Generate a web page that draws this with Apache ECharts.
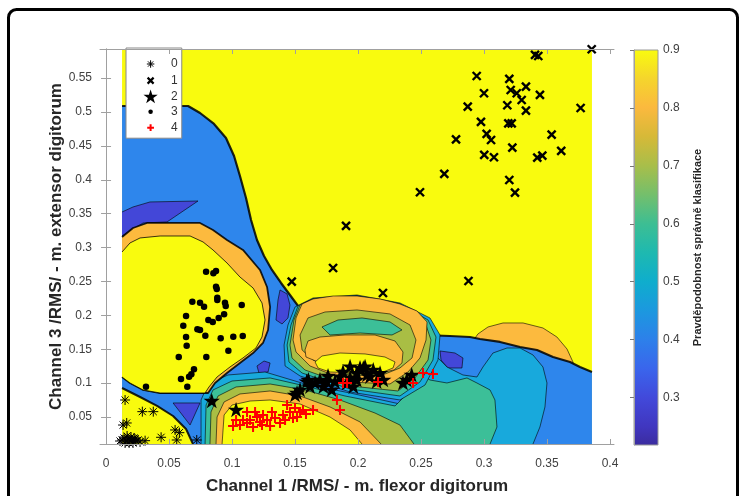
<!DOCTYPE html>
<html><head><meta charset="utf-8">
<script src="https://cdn.jsdelivr.net/npm/echarts@6.0.0/dist/echarts.min.js"></script>
<style>html,body{margin:0;padding:0;background:#fff}#c{width:741px;height:496px}</style>
</head><body><div id="c"></div>
<script>
// ---------- axis ticks ----------
const xTicks = [0, 0.05, 0.1, 0.15, 0.2, 0.25, 0.3, 0.35, 0.4];
const yTicks = [0.05, 0.1, 0.15, 0.2, 0.25, 0.3, 0.35, 0.4, 0.45, 0.5, 0.55];
const cbTicks = [0.3, 0.4, 0.5, 0.6, 0.7, 0.8, 0.9];
const classNames = ['0', '1', '2', '3', '4'];

// ---------- scatter data (x = Channel 1 RMS, y = Channel 3 RMS) ----------
const class0 = [[0.0151,0.0752],[0.0288,0.0580],[0.0375,0.0580],[0.0164,0.0413],[0.0135,0.0383],[0.0548,0.0310],[0.0582,0.0270],[0.0437,0.0202],[0.0310,0.0152],[0.0561,0.0162],[0.0720,0.0162],[0.0127,0.0162],[0.0143,0.0192],[0.0159,0.0147],[0.0175,0.0177],[0.0190,0.0147],[0.0206,0.0162],[0.0222,0.0192],[0.0238,0.0147],[0.0254,0.0162],[0.0167,0.0221],[0.0198,0.0206],[0.0230,0.0177],[0.0151,0.0118],[0.0214,0.0118],[0.0270,0.0133],[0.0183,0.0118],[0.0111,0.0147]];
const class1 = [[0.3405,0.5841],[0.3431,0.5826],[0.3855,0.5925],[0.2942,0.5531],[0.3201,0.5487],[0.3333,0.5373],[0.3212,0.5324],[0.3260,0.5276],[0.3000,0.5276],[0.3444,0.5251],[0.3299,0.5177],[0.2871,0.5078],[0.3185,0.5099],[0.3333,0.5019],[0.3767,0.5059],[0.2976,0.4853],[0.3193,0.4833],[0.3220,0.4833],[0.3021,0.4676],[0.3056,0.4587],[0.2778,0.4597],[0.3537,0.4665],[0.3225,0.4473],[0.3002,0.4366],[0.3079,0.4332],[0.3423,0.4326],[0.3463,0.4355],[0.3613,0.4425],[0.2685,0.4086],[0.3201,0.3997],[0.3246,0.3810],[0.2492,0.3816],[0.1905,0.3319],[0.1802,0.2699],[0.1474,0.2497],[0.2198,0.2330],[0.2877,0.2507]];
const class2 = [[0.0839,0.0737],[0.1032,0.0605],[0.1500,0.0826],[0.1516,0.0855],[0.1540,0.0900],[0.1593,0.1022],[0.1606,0.1047],[0.1619,0.0948],[0.1659,0.1003],[0.1698,0.1047],[0.1725,0.0948],[0.1752,0.1022],[0.1762,0.1106],[0.1791,0.0900],[0.1817,0.1018],[0.1857,0.1096],[0.1881,0.1165],[0.1910,0.0999],[0.1937,0.1243],[0.1937,0.1077],[0.1963,0.0948],[0.1990,0.1146],[0.1990,0.1047],[0.2016,0.1224],[0.2042,0.1220],[0.2056,0.1243],[0.2071,0.1121],[0.2095,0.1096],[0.2121,0.1195],[0.2148,0.1022],[0.2175,0.1146],[0.2201,0.1047],[0.2387,0.1047],[0.2426,0.1121],[0.2357,0.1003]];
const class3 = [[0.0794,0.2645],[0.0852,0.2621],[0.0873,0.2655],[0.0873,0.2423],[0.0879,0.2389],[0.0883,0.2261],[0.0883,0.2227],[0.0685,0.2202],[0.0746,0.2187],[0.0778,0.2128],[0.0944,0.2187],[0.0950,0.2139],[0.1077,0.2153],[0.0635,0.1991],[0.0937,0.2016],[0.0894,0.1962],[0.0812,0.1932],[0.0847,0.1903],[0.0613,0.1848],[0.0725,0.1795],[0.0746,0.1785],[0.0788,0.1701],[0.0635,0.1681],[0.0910,0.1662],[0.1010,0.1686],[0.1085,0.1696],[0.0640,0.1553],[0.0971,0.1479],[0.0577,0.1386],[0.0796,0.1386],[0.0698,0.1205],[0.0677,0.1131],[0.0659,0.1096],[0.0595,0.1062],[0.0645,0.0948],[0.0317,0.0948]];
const class4 = [[0.1008,0.0369],[0.1063,0.0383],[0.1032,0.0457],[0.1087,0.0457],[0.1119,0.0413],[0.1119,0.0575],[0.1143,0.0457],[0.1167,0.0354],[0.1198,0.0501],[0.1222,0.0428],[0.1238,0.0383],[0.1278,0.0457],[0.1302,0.0369],[0.1317,0.0575],[0.1341,0.0487],[0.1381,0.0413],[0.1405,0.0531],[0.1437,0.0678],[0.1460,0.0575],[0.1484,0.0487],[0.1500,0.0634],[0.1516,0.0501],[0.1540,0.0575],[0.1563,0.0605],[0.1587,0.0546],[0.1643,0.0605],[0.1833,0.0752],[0.1857,0.0605],[0.1881,0.1003],[0.1913,0.1003],[0.2159,0.1018],[0.2437,0.1003],[0.2516,0.1150],[0.2595,0.1136],[0.1246,0.0531],[0.1183,0.0575],[0.1421,0.0457]];

// ---------- filled-contour regions (probability level, outline in data units) ----------
const gridXMin = 0.0127, gridXMax = 0.3857, gridYMin = 0.0103, gridYMax = 0.5929;
const baseYellow = [[0.0127,0.0103],[0.3857,0.0103],[0.3857,0.5929],[0.0127,0.5929]];
const rightArc = [[0.2889,0.1563],[0.2952,0.1726],[0.3032,0.1829],[0.3151,0.1888],[0.3310,0.1888],[0.3468,0.1814],[0.3579,0.1681],[0.3659,0.1504],[0.3706,0.1313],[0.3722,0.1121],[0.3603,0.1047],[0.2889,0.1195]];
const blueZone = [[0.0127,0.5088],[0.0651,0.5088],[0.0746,0.4985],[0.0857,0.4823],[0.0952,0.4617],[0.1016,0.4351],[0.1063,0.4056],[0.1111,0.3732],[0.1151,0.3407],[0.1198,0.3112],[0.1254,0.2876],[0.1317,0.2670],[0.1389,0.2478],[0.1460,0.2301],[0.1524,0.2139],[0.1619,0.2050],[0.1937,0.2021],[0.2333,0.1962],[0.2516,0.1711],[0.2730,0.1696],[0.2889,0.1681],[0.2968,0.1652],[0.3127,0.1608],[0.3286,0.1534],[0.3421,0.1490],[0.3548,0.1386],[0.3683,0.1313],[0.3762,0.1239],[0.3857,0.1165],[0.3857,0.0103],[0.0127,0.0103]];
const spotTopLeft = [[0.0127,0.3525],[0.0214,0.3599],[0.0349,0.3673],[0.0730,0.3687],[0.0484,0.3378],[0.0294,0.3363],[0.0214,0.3274],[0.0127,0.3171]];
const spotStrip = [[0.1381,0.2375],[0.1437,0.2316],[0.1460,0.2153],[0.1444,0.1962],[0.1397,0.1873],[0.1349,0.1932],[0.1365,0.2227]];
const spotLowLeft = [[0.0532,0.0708],[0.0746,0.0708],[0.0667,0.0383]];
const spotRight = [[0.2651,0.1475],[0.2770,0.1445],[0.2833,0.1372],[0.2825,0.1224],[0.2714,0.1224],[0.2659,0.1342]];
const spotChannel = [[0.1198,0.1254],[0.1254,0.1327],[0.1302,0.1298],[0.1286,0.1165],[0.1214,0.1150]];
const c4Cyan = [[0.0754,0.0103],[0.0754,0.0752],[0.0810,0.0988],[0.0968,0.1121],[0.1262,0.1165],[0.1579,0.0988],[0.1937,0.0855],[0.2333,0.0693],[0.2452,0.0826],[0.2452,0.1563],[0.2516,0.1696],[0.2571,0.1490],[0.2706,0.1239],[0.2833,0.1121],[0.2944,0.1091],[0.2992,0.1239],[0.3071,0.1445],[0.3183,0.1519],[0.3286,0.1519],[0.3389,0.1416],[0.3468,0.1239],[0.3500,0.1003],[0.3484,0.0649],[0.3444,0.0354],[0.3389,0.0103]];
const c4Teal = [[0.0786,0.0103],[0.0794,0.0678],[0.0849,0.0900],[0.1000,0.1032],[0.1302,0.1077],[0.1579,0.0959],[0.1897,0.0811],[0.2294,0.0664],[0.2373,0.0811],[0.2413,0.1239],[0.2571,0.1047],[0.2706,0.1003],[0.2865,0.1077],[0.2944,0.1003],[0.3048,0.0900],[0.3087,0.0752],[0.3103,0.0354],[0.3048,0.0103]];
const c4Olive = [[0.0825,0.0103],[0.0833,0.0575],[0.0889,0.0811],[0.1032,0.0944],[0.1302,0.0988],[0.1579,0.0900],[0.1857,0.0752],[0.2135,0.0560],[0.2333,0.0383],[0.2444,0.0103]];
const c4Orange = [[0.0873,0.0103],[0.0881,0.0501],[0.0937,0.0723],[0.1063,0.0841],[0.1302,0.0885],[0.1540,0.0811],[0.1778,0.0649],[0.2016,0.0428],[0.2183,0.0103]];
const c4Yellow = [[0.0921,0.0103],[0.0937,0.0531],[0.1000,0.0678],[0.1143,0.0737],[0.1302,0.0752],[0.1540,0.0693],[0.1778,0.0501],[0.1937,0.0310],[0.2032,0.0103]];
const c2Cyan = [[0.1413,0.1563],[0.1444,0.1858],[0.1500,0.2124],[0.1643,0.2257],[0.1992,0.2301],[0.2333,0.2183],[0.2571,0.1962],[0.2651,0.1711],[0.2635,0.1342],[0.2532,0.0973],[0.2333,0.0752],[0.1937,0.0870],[0.1540,0.1106],[0.1421,0.1254]];
const c2Teal = [[0.1437,0.1563],[0.1468,0.1858],[0.1524,0.2139],[0.1643,0.2242],[0.1992,0.2286],[0.2333,0.2168],[0.2556,0.1932],[0.2619,0.1681],[0.2595,0.1342],[0.2492,0.1018],[0.2333,0.0811],[0.1937,0.0914],[0.1556,0.1150],[0.1452,0.1313]];
const c2Olive = [[0.1460,0.1563],[0.1492,0.1932],[0.1540,0.2153],[0.1643,0.2242],[0.1992,0.2286],[0.2333,0.2168],[0.2532,0.1903],[0.2579,0.1637],[0.2556,0.1342],[0.2452,0.1077],[0.2317,0.0885],[0.1937,0.0959],[0.1579,0.1195],[0.1476,0.1372]];
const c2Orange = [[0.1484,0.1637],[0.1508,0.1962],[0.1556,0.2168],[0.1643,0.2242],[0.1802,0.2286],[0.1992,0.2286],[0.2175,0.2242],[0.2333,0.2168],[0.2468,0.2065],[0.2548,0.1903],[0.2540,0.1637],[0.2492,0.1372],[0.2397,0.1165],[0.2254,0.0988],[0.1937,0.1018],[0.1619,0.1254],[0.1508,0.1460]];
const c2OliveIn = [[0.1540,0.1711],[0.1603,0.1962],[0.1738,0.2050],[0.1992,0.2080],[0.2254,0.2021],[0.2413,0.1858],[0.2460,0.1637],[0.2429,0.1372],[0.2333,0.1224],[0.2175,0.1106],[0.1897,0.1121],[0.1643,0.1342],[0.1556,0.1490]];
const c2TealIn = [[0.1714,0.1829],[0.1841,0.1932],[0.2032,0.1962],[0.2254,0.1903],[0.2349,0.1785],[0.2270,0.1711],[0.2016,0.1740],[0.1778,0.1711]];
const c2OrangeIn = [[0.1579,0.1490],[0.1603,0.1622],[0.1698,0.1681],[0.1897,0.1711],[0.2135,0.1711],[0.2294,0.1622],[0.2357,0.1460],[0.2349,0.1298],[0.2286,0.1195],[0.2135,0.1136],[0.1897,0.1150],[0.1683,0.1313],[0.1587,0.1386]];
const c2Yellow = [[0.1659,0.1313],[0.1714,0.1401],[0.1857,0.1445],[0.2056,0.1431],[0.2214,0.1386],[0.2294,0.1313],[0.2278,0.1224],[0.2198,0.1165],[0.2016,0.1150],[0.1778,0.1165],[0.1683,0.1224]];
const c3Orange = [[0.0127,0.3156],[0.0214,0.3289],[0.0325,0.3363],[0.0746,0.3363],[0.0849,0.3260],[0.0960,0.3112],[0.1087,0.2965],[0.1222,0.2670],[0.1278,0.2419],[0.1302,0.2124],[0.1286,0.1785],[0.1246,0.1593],[0.1167,0.1445],[0.1063,0.1298],[0.0960,0.1150],[0.0865,0.1003],[0.0810,0.0855],[0.0429,0.0855],[0.0294,0.0900],[0.0190,0.1003],[0.0127,0.1091]];
const c3Yellow = [[0.0127,0.2935],[0.0190,0.3068],[0.0270,0.3142],[0.0429,0.3171],[0.0667,0.3171],[0.0770,0.3083],[0.0849,0.2965],[0.0960,0.2773],[0.1063,0.2566],[0.1167,0.2404],[0.1238,0.2183],[0.1262,0.1932],[0.1238,0.1681],[0.1190,0.1519],[0.1087,0.1372],[0.0984,0.1239],[0.0881,0.1091],[0.0817,0.0944],[0.0786,0.0855],[0.0429,0.0855],[0.0294,0.0900],[0.0190,0.1003],[0.0127,0.1091]];
const c0Yellow = [[0.0127,0.0929],[0.0270,0.0796],[0.0405,0.0664],[0.0532,0.0516],[0.0635,0.0324],[0.0690,0.0103],[0.0127,0.0103]];

// painting order: [name, level, outline]
const contourLayers = [
  ['baseYellow',0.9,baseYellow],['rightArc',0.8,rightArc],['blueZone',0.4,blueZone],
  ['spotTopLeft',0.3,spotTopLeft],['spotStrip',0.3,spotStrip],['spotLowLeft',0.3,spotLowLeft],['spotRight',0.3,spotRight],['spotChannel',0.3,spotChannel],
  ['c4Cyan',0.5,c4Cyan],['c4Teal',0.6,c4Teal],
  ['c2Cyan',0.5,c2Cyan],['c2Teal',0.6,c2Teal],['c2Olive',0.7,c2Olive],['c2Orange',0.8,c2Orange],['c2OliveIn',0.7,c2OliveIn],['c2TealIn',0.6,c2TealIn],['c2OrangeIn',0.8,c2OrangeIn],['c2Yellow',0.9,c2Yellow],
  ['c4Olive',0.7,c4Olive],['c4Orange',0.8,c4Orange],['c4Yellow',0.9,c4Yellow],
  ['c3Orange',0.8,c3Orange],['c3Yellow',0.9,c3Yellow],['c0Yellow',0.9,c0Yellow]
];

// ---------- colours (styles) ----------
const levelColors = {0.3:'#4347D8',0.4:'#2E86EC',0.5:'#18A9DC',0.6:'#3CBF98',0.7:'#A9BE44',0.8:'#FCBA3E',0.9:'#F9FB0E'};
const cbRange = [0.218, 0.9];
const cbStops = [[0.218,'#3B2C9E'],[0.25,'#4036BF'],[0.3,'#4249DA'],[0.35,'#3A65EC'],[0.4,'#2D80EA'],[0.45,'#1C98DF'],[0.5,'#0FADCD'],[0.55,'#1EB9B0'],[0.6,'#3DBE93'],[0.65,'#74BF6C'],[0.7,'#A8BE4A'],[0.75,'#D6B938'],[0.8,'#FBB93E'],[0.85,'#F5D52C'],[0.9,'#F9FB0E']];
const edgeWidth = {baseYellow:0, blueZone:2.2, c3Orange:1.8, c3Yellow:0.9, c0Yellow:2};

const FONT = 'Liberation Sans, Arial, Helvetica, sans-serif';
const near = (a,b) => Math.abs(a-b) < 1e-6;
function onFrame(a,b){
  return (near(a[0],gridXMin)&&near(b[0],gridXMin)) || (near(a[0],gridXMax)&&near(b[0],gridXMax)) ||
         (near(a[1],gridYMin)&&near(b[1],gridYMin)) || (near(a[1],gridYMax)&&near(b[1],gridYMax));
}
function renderContour(params, api){
  const layer = contourLayers[params.dataIndex];
  const pts = layer[2];
  const px = pts.map(p => api.coord(p));
  const children = [{type:'polygon', shape:{points:px}, style:{fill:api.visual('color'), stroke:null}}];
  const w = (layer[0] in edgeWidth) ? edgeWidth[layer[0]] : 0.7;
  if (w > 0){
    const n = pts.length; let seg = [];
    const flush = () => { if (seg.length>1) children.push({type:'polyline', shape:{points:seg}, style:{stroke:'rgba(0,0,0,0.85)', lineWidth:w, fill:null, lineJoin:'round'}}); seg=[]; };
    for (let i=0;i<n;i++){
      const j=(i+1)%n;
      if (onFrame(pts[i],pts[j])) { flush(); continue; }
      if (seg.length===0) seg.push(px[i]);
      seg.push(px[j]);
    }
    flush();
  }
  return {type:'group', children};
}
function renderColorbar(params, api){
  const p1 = api.coord([0, cbRange[1]]), p2 = api.coord([1, cbRange[0]]);
  const stops = cbStops.map(s => ({offset:(s[0]-cbRange[0])/(cbRange[1]-cbRange[0]), color:s[1]}));
  return {type:'rect', shape:{x:p1[0], y:p1[1], width:p2[0]-p1[0], height:p2[1]-p1[1]},
    style:{fill:new echarts.graphic.LinearGradient(0,1,0,0,stops), stroke:'#9a9a9a', lineWidth:1}};
}

const symAsterisk = 'path://M5,0L5,10M0,5L10,5M1.46,1.46L8.54,8.54M8.54,1.46L1.46,8.54';
const symX = 'path://M0,0L10,10M10,0L0,10';
const symStar = 'path://M0,0M100,100M50,2.5L61.2,36.9L97.6,36.9L68.2,58.3L79.4,92.9L50,71.5L20.6,92.9L31.8,58.3L2.4,36.9L38.8,36.9Z';
const symPlus = 'path://M5,0L5,10M0,5L10,5';
const legAsterisk = 'path://M0,0M20,20M10,5L10,15M5,10L15,10M6.5,6.5L13.5,13.5M13.5,6.5L6.5,13.5';
const legX = 'path://M0,0M20,20M6,6L14,14M14,6L6,14';
const legStar = 'path://M0,0M20,20M10,0.5L12.24,7.4L19.51,7.4L13.63,11.68L15.88,18.59L10,14.32L4.12,18.59L6.37,11.68L0.49,7.4L7.76,7.4Z';
const legDot = 'path://M0,0M20,20M13,10A3,3,0,1,1,7,10A3,3,0,1,1,13,10Z';
const legPlus = 'path://M0,0M20,20M10,5.5L10,14.5M5.5,10L14.5,10';

const axisGray = '#a0a0a0';
const chart = echarts.init(document.getElementById('c'), null, {renderer:'canvas'});
chart.setOption({
  animation:false,
  backgroundColor:'#fff',
  textStyle:{fontFamily:FONT},
  grid:[{left:100, top:49, width:514, height:395, outerBoundsMode:'none', containLabel:false},
        {left:634, top:50, width:24, height:395, outerBoundsMode:'none', containLabel:false}],
  xAxis:[
    {gridIndex:0, type:'value', position:'bottom', min:-0.0048, max:0.4032, z:10,
     axisLine:{lineStyle:{color:axisGray,width:1}}, splitLine:{show:false},
     axisTick:{inside:true, length:5, customValues:xTicks, lineStyle:{color:axisGray}},
     axisLabel:{customValues:xTicks, color:'#404040', fontSize:12, margin:14, fontFamily:FONT},
     name:'Channel 1 /RMS/ - m. flexor digitorum', nameLocation:'middle', nameGap:34, nameMoveOverlap:false,
     nameTextStyle:{fontWeight:'bold', fontSize:17, color:'#262626', fontFamily:FONT}},
    {gridIndex:0, type:'value', position:'top', min:-0.0048, max:0.4032, z:10,
     axisLine:{lineStyle:{color:axisGray,width:1}}, splitLine:{show:false},
     axisTick:{inside:true, length:5, customValues:xTicks, lineStyle:{color:axisGray}}, axisLabel:{show:false}},
    {gridIndex:1, type:'value', min:0, max:1, show:false}
  ],
  yAxis:[
    {gridIndex:0, type:'value', position:'left', min:gridYMin, max:gridYMax, z:10,
     axisLine:{show:true, lineStyle:{color:axisGray,width:1}}, splitLine:{show:false},
     axisTick:{show:true, inside:true, length:5, customValues:yTicks, lineStyle:{color:axisGray}},
     axisLabel:{customValues:yTicks, color:'#404040', fontSize:12, margin:8, fontFamily:FONT},
     name:'Channel 3 /RMS/ - m. extensor digitorum', nameLocation:'middle', nameGap:35, nameRotate:90, nameMoveOverlap:false,
     nameTextStyle:{fontWeight:'bold', fontSize:17, color:'#262626', fontFamily:FONT}},
    {gridIndex:0, type:'value', position:'right', min:gridYMin, max:gridYMax, z:10,
     axisLine:{show:true, lineStyle:{color:axisGray,width:1}}, splitLine:{show:false},
     axisTick:{show:true, inside:true, length:5, customValues:yTicks, lineStyle:{color:axisGray}}, axisLabel:{show:false}},
    {gridIndex:1, type:'value', position:'right', min:cbRange[0], max:cbRange[1], z:10,
     axisLine:{show:true, lineStyle:{color:axisGray,width:1}}, splitLine:{show:false},
     axisTick:{show:true, inside:true, length:4, customValues:cbTicks, lineStyle:{color:'#777'}},
     axisLabel:{customValues:cbTicks, color:'#404040', fontSize:12, margin:5, fontFamily:FONT},
     name:'Pravděpodobnost správně klasifikace', nameLocation:'middle', nameGap:34, nameRotate:90, nameMoveOverlap:false,
     nameTextStyle:{fontWeight:'bold', fontSize:11, color:'#262626', fontFamily:FONT}}
  ],
  visualMap:[{type:'piecewise', show:false, seriesIndex:0, dimension:0,
    pieces:Object.keys(levelColors).map(k => ({value:Number(k), color:levelColors[k]}))}],
  legend:{left:126, top:48, orient:'vertical', itemWidth:15, itemHeight:15, itemGap:0,
    padding:[8,4,2,16], backgroundColor:'#fff', borderColor:'#888', borderWidth:1,
    textStyle:{fontSize:12, color:'#333', padding:[0,0,0,8], fontFamily:FONT},
    data:[
      {name:'0', icon:legAsterisk, itemStyle:{color:'rgba(0,0,0,0)', borderColor:'#000', borderWidth:1}},
      {name:'1', icon:legX, itemStyle:{color:'rgba(0,0,0,0)', borderColor:'#000', borderWidth:2.2}},
      {name:'2', icon:legStar, itemStyle:{color:'#000', borderColor:'#000', borderWidth:0}},
      {name:'3', icon:legDot, itemStyle:{color:'#000', borderColor:'#000', borderWidth:0}},
      {name:'4', icon:legPlus, itemStyle:{color:'rgba(0,0,0,0)', borderColor:'#ff0000', borderWidth:2}}
    ]},
  graphic:[{type:'rect', left:6, top:7, shape:{width:729, height:560, r:8}, style:{fill:null, stroke:'#000', lineWidth:3}, z:100, silent:true}],
  series:[
    {type:'custom', name:'contour', xAxisIndex:0, yAxisIndex:0, clip:true, silent:true, z:1,
     renderItem:renderContour, data:contourLayers.map(l => [l[1], 0.3])},
    {type:'custom', name:'colorbar', xAxisIndex:2, yAxisIndex:2, silent:true, renderItem:renderColorbar, data:[[0, cbRange[0]]]},
    {type:'scatter', name:classNames[0], data:class0, symbol:symAsterisk, symbolSize:10, z:3,
     itemStyle:{color:'rgba(0,0,0,0)', borderColor:'#000', borderWidth:1, opacity:1}},
    {type:'scatter', name:classNames[1], data:class1, symbol:symX, symbolSize:8, z:3,
     itemStyle:{color:'rgba(0,0,0,0)', borderColor:'#000', borderWidth:2.4, opacity:1}},
    {type:'scatter', name:classNames[2], data:class2, symbol:symStar, symbolSize:17, symbolKeepAspect:true, z:3,
     itemStyle:{color:'#000', opacity:1}},
    {type:'scatter', name:classNames[3], data:class3, symbol:'circle', symbolSize:6.5, z:3,
     itemStyle:{color:'#000', opacity:1}},
    {type:'scatter', name:classNames[4], data:class4, symbol:symPlus, symbolSize:10, z:3,
     itemStyle:{color:'rgba(0,0,0,0)', borderColor:'#ff0000', borderWidth:2, opacity:1}}
  ]
});
</script></body></html>
